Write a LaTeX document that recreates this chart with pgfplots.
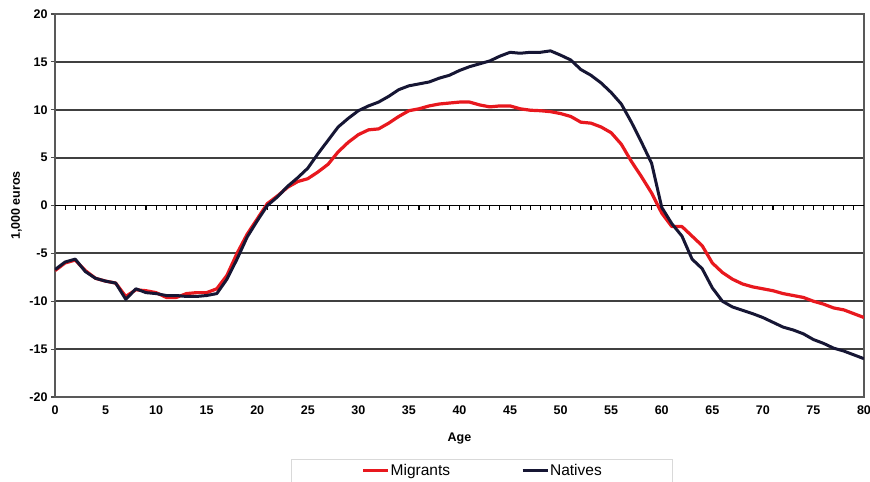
\documentclass[border=0pt]{standalone}
\usepackage{pgfplots}
\pgfplotsset{compat=1.18}
\usepackage{fontspec}
\setmainfont{Liberation Sans}
\definecolor{migred}{RGB}{232,24,30}
\definecolor{natnavy}{RGB}{22,22,52}
\begin{document}
\begin{tikzpicture}
\useasboundingbox (-55bp,-85bp) rectangle (815bp,397bp);
\begin{axis}[
  scale only axis,
  width=809bp, height=383bp,
  xmin=0, xmax=80, ymin=-20, ymax=20,
  xtick={0,5,...,80}, ytick={-20,-15,...,20},
  /pgf/number format/assume math mode=true,
  ticklabel style={font=\fontsize{12.5bp}{14bp}\selectfont\bfseries},
  x tick style={draw=none},
  y tick style={draw=black!70, line width=1.2bp},
  ytick pos=left,
  tick align=outside,
  major tick length=4bp,
  ymajorgrids,
  major grid style={draw=black!75, line width=1.8bp},
  axis line style={draw=black!65, line width=1.6bp},
  xticklabel style={yshift=-1bp},
  xlabel={Age},
  ylabel={1,000 euros},
  label style={font=\fontsize{12.5bp}{14bp}\selectfont\bfseries},
  xlabel style={at={(axis description cs:0.5,-0.1149)}, anchor=base},
  ylabel style={at={(axis description cs:-0.0433,0.5)}, anchor=base},
  legend columns=2,
  legend style={at={(axis description cs:0.528,-0.162)}, anchor=north,
    draw=black!15, line width=0.8bp, inner xsep=70bp, inner ysep=3bp,
    font=\fontsize{15.5bp}{18bp}\selectfont,
    nodes={inner xsep=1bp, inner ysep=2bp},
    /tikz/every even column/.append style={column sep=70bp}},
  legend image code/.code={\draw[#1] (0bp,0bp) -- (25bp,0bp);},
]
\draw[black, line width=1.8bp] (axis cs:0,0) -- (axis cs:80,0);
\pgfplotsinvokeforeach{1,...,79}{\draw[black, line width=1.1bp] (axis cs:#1,0) -- ([yshift=-5bp]axis cs:#1,0);}
\addplot[migred, line width=3.2bp, line join=round] coordinates {
(0,-6.8)(1,-6.0)(2,-5.7)(3,-6.8)(4,-7.6)(5,-7.9)(6,-8.1)(7,-9.5)(8,-8.8)(9,-8.9)
(10,-9.1)(11,-9.6)(12,-9.6)(13,-9.2)(14,-9.1)(15,-9.1)(16,-8.7)(17,-7.3)(18,-5.0)(19,-3.0)
(20,-1.4)(21,0.2)(22,1.0)(23,1.9)(24,2.5)(25,2.8)(26,3.5)(27,4.3)(28,5.6)(29,6.6)
(30,7.4)(31,7.9)(32,8.0)(33,8.6)(34,9.3)(35,9.9)(36,10.1)(37,10.4)(38,10.6)(39,10.7)
(40,10.8)(41,10.8)(42,10.5)(43,10.3)(44,10.4)(45,10.4)(46,10.1)(47,9.95)(48,9.9)(49,9.8)
(50,9.6)(51,9.3)(52,8.7)(53,8.6)(54,8.2)(55,7.6)(56,6.4)(57,4.6)(58,3.0)(59,1.3)
(60,-0.8)(61,-2.2)(62,-2.2)(63,-3.2)(64,-4.2)(65,-6.0)(66,-7.0)(67,-7.7)(68,-8.2)(69,-8.5)
(70,-8.7)(71,-8.9)(72,-9.2)(73,-9.4)(74,-9.6)(75,-10.0)(76,-10.3)(77,-10.7)(78,-10.9)(79,-11.3)
(80,-11.7)
};
\addlegendentry{Migrants}
\addplot[natnavy, line width=3.0bp, line join=round] coordinates {
(0,-6.7)(1,-5.9)(2,-5.6)(3,-6.9)(4,-7.6)(5,-7.9)(6,-8.1)(7,-9.8)(8,-8.7)(9,-9.1)
(10,-9.2)(11,-9.4)(12,-9.4)(13,-9.5)(14,-9.5)(15,-9.4)(16,-9.2)(17,-7.7)(18,-5.6)(19,-3.3)
(20,-1.6)(21,0.0)(22,0.9)(23,2.0)(24,2.9)(25,3.9)(26,5.4)(27,6.8)(28,8.2)(29,9.1)
(30,9.9)(31,10.4)(32,10.8)(33,11.4)(34,12.1)(35,12.5)(36,12.7)(37,12.9)(38,13.3)(39,13.6)
(40,14.1)(41,14.5)(42,14.8)(43,15.1)(44,15.6)(45,16.0)(46,15.9)(47,16.0)(48,16.0)(49,16.15)
(50,15.7)(51,15.2)(52,14.2)(53,13.6)(54,12.8)(55,11.8)(56,10.6)(57,8.7)(58,6.6)(59,4.4)
(60,-0.2)(61,-1.9)(62,-3.2)(63,-5.6)(64,-6.6)(65,-8.6)(66,-10.0)(67,-10.6)(68,-10.95)(69,-11.3)
(70,-11.7)(71,-12.2)(72,-12.7)(73,-13.0)(74,-13.4)(75,-14.0)(76,-14.4)(77,-14.9)(78,-15.2)(79,-15.6)
(80,-16.0)
};
\addlegendentry{Natives}
\end{axis}
\end{tikzpicture}
\end{document}
